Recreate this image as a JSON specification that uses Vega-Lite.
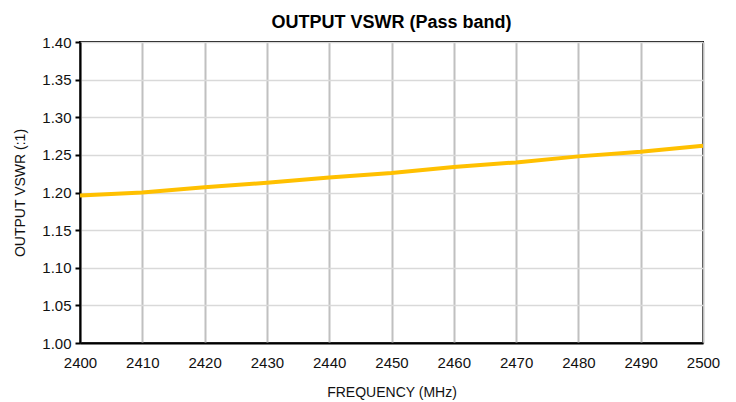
{
  "$schema": "https://vega.github.io/schema/vega-lite/v6.json",
  "width": 623,
  "height": 301,
  "autosize": {"type": "none"},
  "padding": {"left": 80, "top": 42, "right": 33, "bottom": 59},
  "background": "white",
  "title": {
    "text": "OUTPUT VSWR (Pass band)",
    "font": "Liberation Sans",
    "fontSize": 18,
    "fontWeight": "bold",
    "color": "black",
    "anchor": "middle",
    "offset": 3
  },
  "config": {
    "view": {"stroke": "black", "strokeWidth": 2},
    "axis": {
      "labelFont": "Liberation Sans",
      "titleFont": "Liberation Sans",
      "labelFontSize": 15,
      "titleFontSize": 14,
      "labelColor": "#111",
      "titleColor": "#111",
      "titleFontWeight": "normal",
      "domainColor": "black",
      "domainWidth": 2
    }
  },
  "data": {
    "values": [
      {"freq": 2400, "vswr": 1.196},
      {"freq": 2410, "vswr": 1.200},
      {"freq": 2420, "vswr": 1.207},
      {"freq": 2430, "vswr": 1.213},
      {"freq": 2440, "vswr": 1.220},
      {"freq": 2450, "vswr": 1.226},
      {"freq": 2460, "vswr": 1.234},
      {"freq": 2470, "vswr": 1.240},
      {"freq": 2480, "vswr": 1.248},
      {"freq": 2490, "vswr": 1.254},
      {"freq": 2500, "vswr": 1.262}
    ]
  },
  "mark": {"type": "line", "color": "#FFC000", "strokeWidth": 4},
  "encoding": {
    "x": {
      "field": "freq",
      "type": "quantitative",
      "scale": {"domain": [2400, 2500], "nice": false, "zero": false},
      "axis": {
        "title": "FREQUENCY (MHz)",
        "values": [2400, 2410, 2420, 2430, 2440, 2450, 2460, 2470, 2480, 2490, 2500],
        "format": "d",
        "ticks": false,
        "labelFlush": false,
        "labelOverlap": false,
        "labelPadding": 12,
        "titlePadding": 15,
        "grid": true,
        "gridColor": "#c0c0c0",
        "gridWidth": 2
      }
    },
    "y": {
      "field": "vswr",
      "type": "quantitative",
      "scale": {"domain": [1.0, 1.4], "nice": false, "zero": false},
      "axis": {
        "title": "OUTPUT VSWR (:1)",
        "values": [1.0, 1.05, 1.1, 1.15, 1.2, 1.25, 1.3, 1.35, 1.4],
        "format": ".2f",
        "labelFlush": false,
        "tickColor": "black",
        "tickWidth": 2,
        "tickSize": 5,
        "labelPadding": 4,
        "titlePadding": 14,
        "grid": true,
        "gridColor": "#d9d9d9",
        "gridWidth": 1.5
      }
    }
  }
}
